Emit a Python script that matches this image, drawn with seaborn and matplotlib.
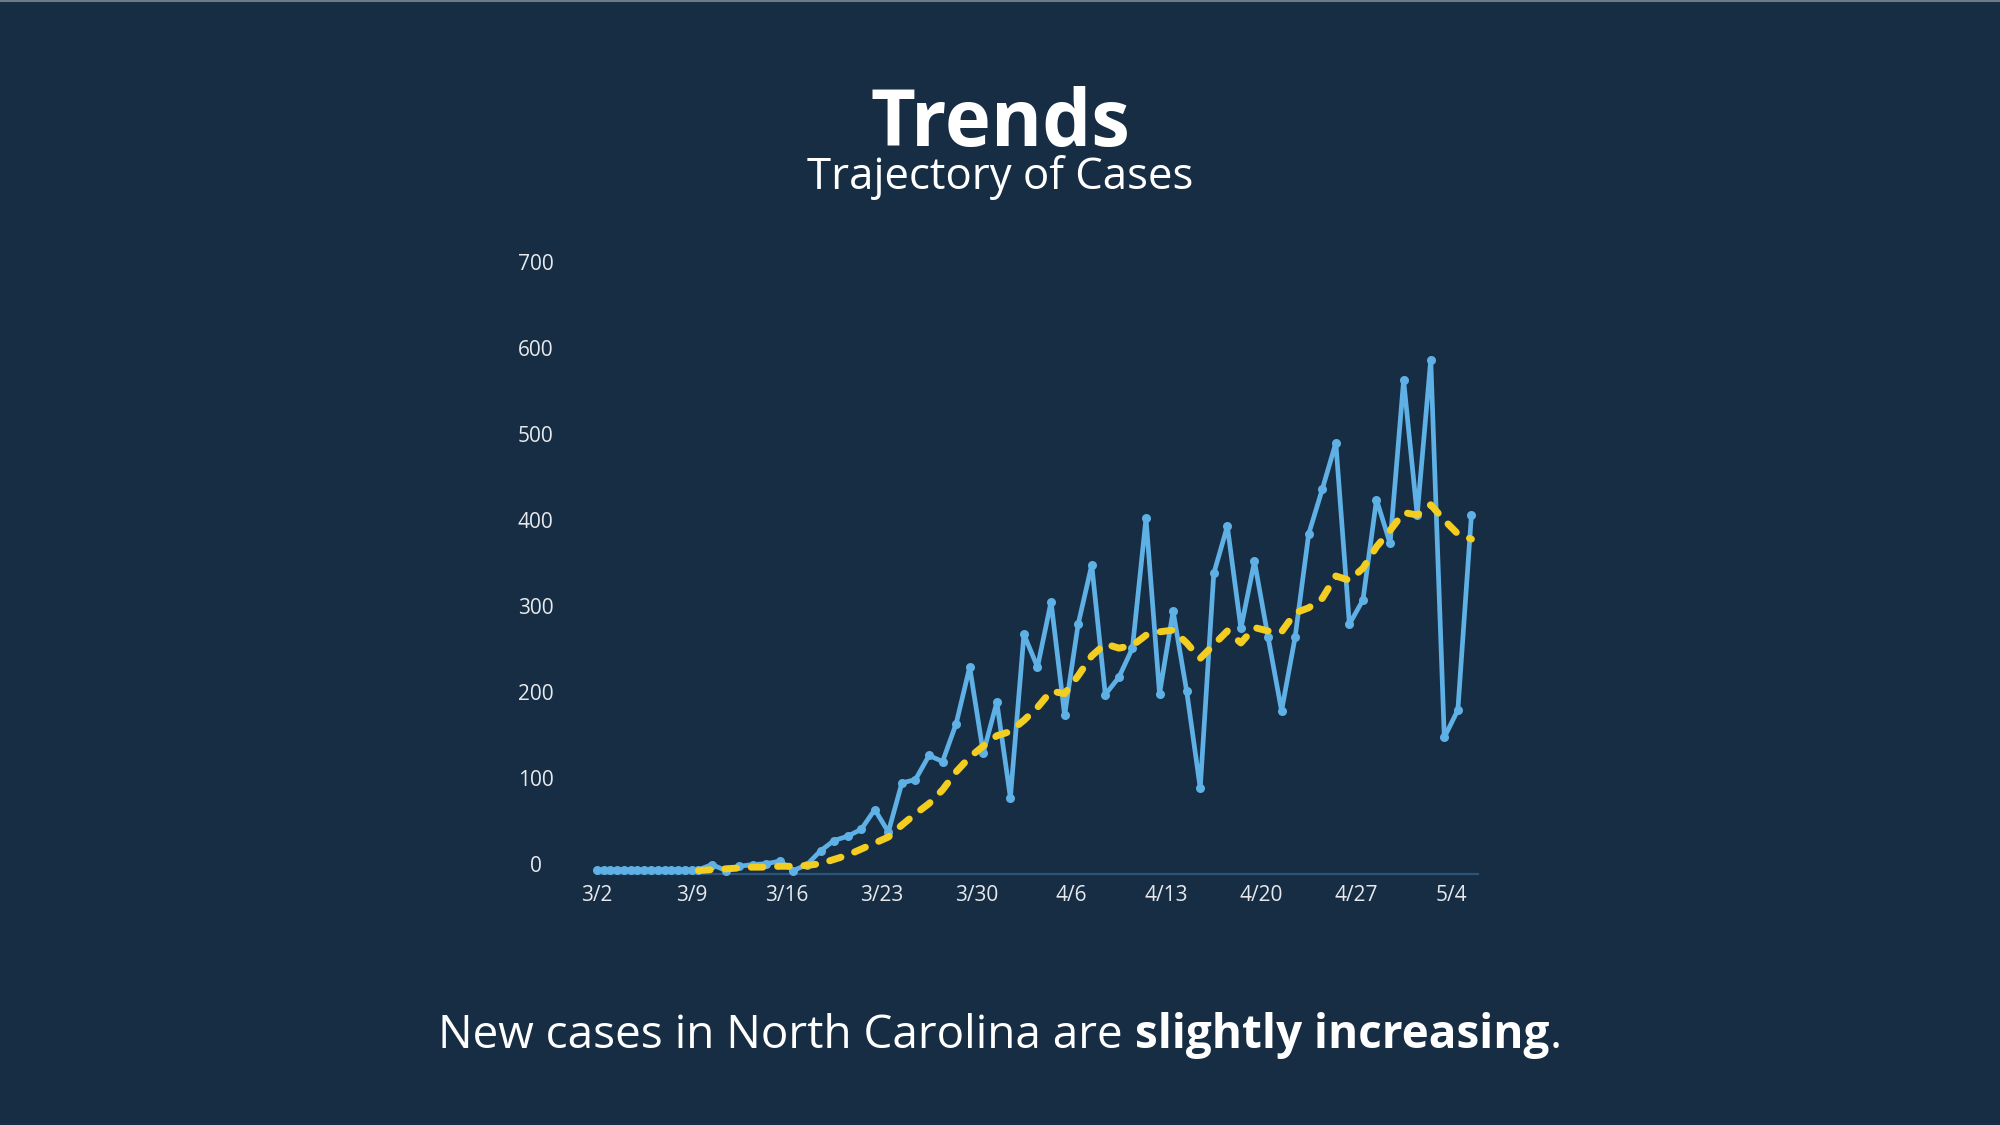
import numpy as np
import pandas as pd
import seaborn as sns
import matplotlib.pyplot as plt
import matplotlib.transforms as mtransforms
from matplotlib.lines import Line2D

# ---- data
# first days are plotted at 12h steps, then one point per day (noon)
early_times = pd.date_range("2020-03-02 00:00", "2020-03-09 00:00", freq="12h")
early_cases = [1, 1, 1, 1, 1, 1, 1, 1, 1, 1, 1, 1, 1, 1, 1]

daily_times = pd.date_range("2020-03-09 12:00", "2020-05-05 12:00", freq="D")
daily_cases = [1, 7, 0, 5, 7, 8, 11, 0, 7, 23, 35, 40, 48, 71, 45, 102, 106, 134, 127, 171, 237, 137, 196,
               85, 275, 237, 313, 181, 287, 356, 205, 225, 259, 410, 206, 302, 209, 96, 346, 401,
               282, 360, 272, 186, 272, 392, 444, 498, 287, 315, 432, 381, 571,
               414, 595, 155, 187, 414]
avg_cases = [0, 1, 2, 3, 4, 4, 5, 5, 6, 8, 13, 18, 25, 32, 39, 53, 66, 78, 94, 115, 132, 145, 157,
             162, 175, 190, 209, 206, 227, 250, 264, 259, 262, 274, 278, 280, 265, 247, 263, 279,
             265, 283, 279, 278, 300, 306, 317, 343, 338, 352, 377, 396, 417,
             414, 426, 408, 392, 386]

x_tick_dates = pd.date_range("2020-03-02", "2020-05-04", freq="7D")
x_tick_labels = ["3/2", "3/9", "3/16", "3/23", "3/30", "4/6", "4/13", "4/20", "4/27", "5/4"]
y_ticks = [0, 100, 200, 300, 400, 500, 600, 700]
y_tick_labels = ["0", "100", "200", "300", "400", "500", "600", "700"]

cases = pd.DataFrame({"date": list(early_times) + list(daily_times),
                      "cases": early_cases + daily_cases})
avg = pd.DataFrame({"date": daily_times, "avg": avg_cases})

# ---- style
BG = "#172d43"
BLUE = "#5eb0e5"
YELLOW = "#f3cd1f"
AXIS = "#2d5479"
TXT = "#e6eaee"

sns.set_style("dark", {"axes.facecolor": BG, "figure.facecolor": BG})
plt.rcParams["font.family"] = ["Open Sans", "DejaVu Sans"]

fig = plt.figure(figsize=(20, 11.25), dpi=100)
ax = fig.add_axes([596.8 / 2000, 251 / 1125, 881.4 / 2000, 608 / 1125])
ax.set_facecolor(BG)

sns.lineplot(data=cases, x="date", y="cases", ax=ax, color=BLUE, linewidth=3.4,
             marker="o", markersize=6.5, markeredgewidth=0, clip_on=False, zorder=3)
sns.lineplot(data=avg, x="date", y="avg", ax=ax, color=YELLOW, linewidth=5,
             linestyle=(0, (1.7, 2.1)), dash_capstyle="round", clip_on=False, zorder=4)

ax.set_xlim(pd.Timestamp("2020-03-02"), pd.Timestamp("2020-05-06"))
ax.set_ylim(-4, 704)
ax.set_xlabel("")
ax.set_ylabel("")
ax.grid(False)
for s in ["top", "right", "left"]:
    ax.spines[s].set_visible(False)
ax.spines["bottom"].set_color(AXIS)
ax.spines["bottom"].set_linewidth(1.6)

ax.set_xticks(x_tick_dates, x_tick_labels)
ax.set_yticks(y_ticks, y_tick_labels)
ax.tick_params(axis="x", colors=TXT, labelsize=15, length=4, width=1.2, color=AXIS, pad=4)
ax.tick_params(axis="y", colors=TXT, labelsize=15, length=0, pad=44)
shift = mtransforms.ScaledTranslation(0, 7 / 100, fig.dpi_scale_trans)
for lab in ax.get_yticklabels():
    lab.set_horizontalalignment("center")
    lab.set_transform(lab.get_transform() + shift)

# ---- titles
fig.text(0.5, 1 - 146 / 1125, "Trends", ha="center", va="baseline", color="white",
         fontsize=56, fontweight="bold")
fig.text(0.5, 1 - 189 / 1125, "Trajectory of Cases", ha="center", va="baseline", color="white",
         fontsize=31.5)

# bottom sentence with a bold part, centred as a whole
y_b = 1 - 1048 / 1125
parts = [("New cases in North Carolina are ", "normal"), ("slightly increasing", "bold"), (".", "normal")]
texts = [fig.text(0, y_b, p, ha="left", va="baseline", color="white", fontsize=33, fontweight=w)
         for p, w in parts]
fig.canvas.draw()
r = fig.canvas.get_renderer()
widths = [t.get_window_extent(r).width / fig.bbox.width for t in texts]
x0 = 0.5 - sum(widths) / 2
for t, w in zip(texts, widths):
    t.set_x(x0)
    x0 += w

fig.add_artist(Line2D([0, 1], [0.999, 0.999], color="#6b7b8a", linewidth=1.5, transform=fig.transFigure))

fig.savefig("out.png", dpi=100, facecolor=BG)
